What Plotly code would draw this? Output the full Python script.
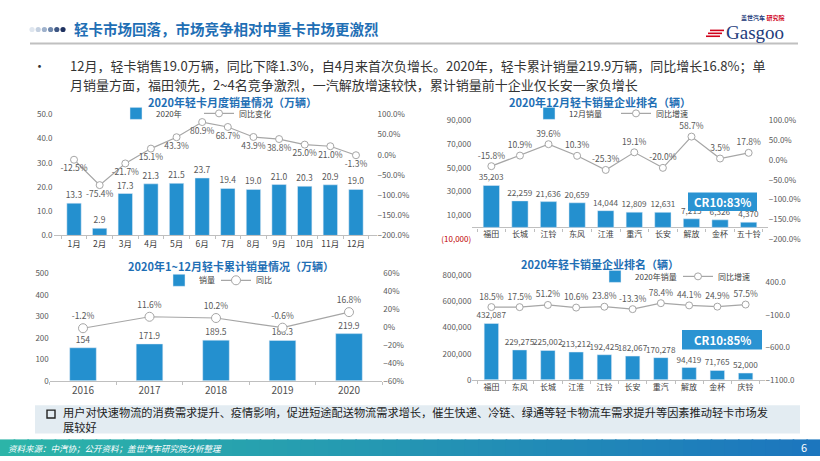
import plotly.graph_objects as go

W, H = 820, 461
def X(p): return p / W
def Y(p): return 1 - p / H

FONT = "Noto Sans CJK SC"
BLUE = "#2490cf"
LINE = "#a6a6a6"
TXT = "#595959"
TITLE = "#1f6fb5"

# ---------------- data ----------------
months = ["1月", "2月", "3月", "4月", "5月", "6月", "7月", "8月", "9月", "10月", "11月", "12月"]
m_sales = [13.3, 2.9, 17.3, 21.3, 21.5, 23.7, 19.4, 19.0, 21.0, 20.3, 20.9, 19.0]
m_yoy = [-12.5, -75.4, -21.7, 15.1, 43.3, 80.9, 68.7, 43.9, 38.8, 25.0, 21.0, -1.3]

dec_cos = ["福田", "长城", "江铃", "东风", "江淮", "重汽", "长安", "解放", "金杯", "五十铃"]
dec_sales = [35203, 22259, 21636, 20659, 14044, 12809, 12631, 7215, 6326, 4370]
dec_yoy = [-15.8, 10.9, 39.6, 10.3, -25.3, 19.1, -20.0, 58.7, 3.5, 17.8]

years = ["2016", "2017", "2018", "2019", "2020"]
y_sales = [154, 171.9, 189.5, 188.3, 219.9]
y_yoy = [-1.2, 11.6, 10.2, -0.6, 16.8]

yr_cos = ["福田", "东风", "长城", "江淮", "江铃", "长安", "重汽", "解放", "金杯", "庆铃"]
yr_sales = [432087, 229275, 225002, 213212, 192425, 182067, 170278, 94419, 71765, 52000]
yr_yoy = [18.5, 17.5, 51.2, 10.6, 23.8, -13.3, 78.4, 44.1, 24.9, 57.5]

fig = go.Figure()

def bar(x, y, name, w, text, xa, ya, lg, fs=8.5):
    return go.Bar(x=x, y=y, name=name, marker_color=BLUE, width=w, text=text, textposition="outside",
                  textfont=dict(size=fs, color=TXT, family=FONT), cliponaxis=False, constraintext="none",
                  xaxis=xa, yaxis=ya, legend=lg, hoverinfo="skip")

def line(x, y, name, pos, xa, ya, lg, msize=7):
    return go.Scatter(x=x, y=y, name=name, mode="lines+markers+text",
                      line=dict(color=LINE, width=1.2),
                      marker=dict(size=msize, color="white", line=dict(color=LINE, width=1)),
                      text=[f"{v:.1f}%" for v in y], textposition=pos,
                      textfont=dict(size=8.5, color=TXT, family=FONT),
                      cliponaxis=False, xaxis=xa, yaxis=ya, legend=lg, hoverinfo="skip")

# chart 1
fig.add_trace(bar(months, m_sales, "2020年", 0.56, [f"{v:.1f}" for v in m_sales], "x", "y", "legend"))
fig.add_trace(line(months, m_yoy, "同比变化", "bottom center", "x", "y2", "legend"))
# chart 2
fig.add_trace(bar(dec_cos, dec_sales, "12月销量", 0.57, [f"{v:,}" for v in dec_sales], "x2", "y3", "legend2", 8.2))
fig.add_trace(line(dec_cos, dec_yoy, "同比增速", "top center", "x2", "y4", "legend2"))
# chart 3
fig.add_trace(bar(years, y_sales, "销量", 0.4, [f"{v:g}" for v in y_sales], "x3", "y5", "legend3"))
fig.add_trace(line(years, y_yoy, "同比", "top center", "x3", "y6", "legend3", msize=9))
# chart 4
fig.add_trace(bar(yr_cos, yr_sales, "2020年销量", 0.51, [f"{v:,}" for v in yr_sales], "x4", "y7", "legend4", 8.2))
fig.add_trace(line(yr_cos, yr_yoy, "同比增速", "top center", "x4", "y8", "legend4"))

tick = dict(size=8, color=TXT, family=FONT)
cat = dict(size=8.5, color="#404040", family=FONT)
base_y = dict(showgrid=False, zeroline=False, showline=False, tickfont=tick, ticks="")
base_x = dict(showgrid=False, zeroline=False, showline=True, linecolor="#bfbfbf", linewidth=1,
              tickfont=cat, ticks="outside", tickson="boundaries", ticklen=3, tickcolor="#bfbfbf",
              tickangle=0)

def leg(x, y, ew):
    return dict(orientation="h", x=X(x), y=Y(y), xanchor="left", yanchor="middle",
                font=dict(size=8, color="#404040", family=FONT), bgcolor="rgba(0,0,0,0)",
                itemwidth=30, tracegroupgap=0, itemclick=False, entrywidth=ew, entrywidthmode="pixels")

ticktext3 = ['<span style="color:#c00000">(10,000)</span>', "10,000", "30,000", "50,000", "70,000", "90,000"]

fig.update_layout(
    width=W, height=H, autosize=False,
    margin=dict(l=0, r=0, t=0, b=0),
    paper_bgcolor="white", plot_bgcolor="rgba(0,0,0,0)",
    font=dict(family=FONT, color=TXT),
    xaxis=dict(base_x, domain=[X(53.5), X(376.5)], anchor="y"),
    yaxis=dict(base_y, domain=[Y(235), Y(111)], range=[0, 50], dtick=10, tickformat=".1f", anchor="x"),
    yaxis2=dict(base_y, overlaying="y", side="right", anchor="x", range=[-200, 100], dtick=50,
                tickformat=".1f", ticksuffix="%"),
    xaxis2=dict(base_x, domain=[X(472.2), X(767.8)], anchor="free", position=Y(227), showline=False,
                tickfont=dict(size=8, color="#404040", family=FONT)),
    yaxis3=dict(base_y, domain=[Y(239), Y(117)], range=[-10000, 90000], anchor="x2",
                tickvals=[-10000, 10000, 30000, 50000, 70000, 90000], ticktext=ticktext3,
                zeroline=True, zerolinecolor="#bfbfbf", zerolinewidth=1),
    yaxis4=dict(base_y, overlaying="y3", side="right", anchor="x2", range=[-200, 100], dtick=50,
                tickformat=".1f", ticksuffix="%"),
    xaxis3=dict(base_x, domain=[X(49.75), X(382.25)], anchor="y5",
                tickfont=dict(size=10, color="#505050", family=FONT)),
    yaxis5=dict(base_y, domain=[Y(384), Y(274)], range=[0, 500], dtick=100, anchor="x3"),
    yaxis6=dict(base_y, overlaying="y5", side="right", anchor="x3", range=[-60, 60], dtick=20,
                ticksuffix="%"),
    xaxis4=dict(base_x, domain=[X(472.4), X(764.6)], anchor="y7",
                tickfont=dict(size=8, color="#404040", family=FONT)),
    yaxis7=dict(base_y, domain=[Y(383), Y(276)], range=[0, 800000], dtick=200000, tickformat=",d", anchor="x4"),
    yaxis8=dict(base_y, overlaying="y7", side="right", anchor="x4", range=[-1100, 505],
                tickvals=[-1100, -600, -100, 400], tickformat=".1f", ticksuffix="%"),
    legend=leg(116, 110, 38), legend2=leg(529, 110, 42), legend3=leg(159, 281, 12), legend4=leg(595, 277, 38),
    showlegend=True,
)

shapes = []
ann = []

# header dots
dot_cols = ["#dfe6ef", "#c4d0e0", "#9fb2cc", "#6f88ad", "#3d5683", "#1f3260"]
for i, c in enumerate(dot_cols):
    cx = 32 + i * 6.2
    shapes.append(dict(type="circle", xref="paper", yref="paper", x0=X(cx - 2.6), x1=X(cx + 2.6),
                       y0=Y(24 + 2.6), y1=Y(24 - 2.6), fillcolor=c, line=dict(width=0)))
ann.append(dict(text="<b>轻卡市场回落，市场竞争相对中重卡市场更激烈</b>", x=X(72), y=Y(23), xanchor="left",
                yanchor="middle", font=dict(size=14.5, color=TITLE, family=FONT)))
# header line
shapes.append(dict(type="line", xref="paper", yref="paper", x0=X(30), x1=X(798), y0=Y(38.5), y1=Y(38.5),
                   line=dict(color="#c0c0c0", width=2)))
# logo
ann.append(dict(text='<b>盖世汽车 <span style="color:#d0021b">研究院</span></b>', x=X(762), y=Y(12),
                xanchor="center", yanchor="middle", font=dict(size=6, color="#233c7b", family=FONT)))
ann.append(dict(text="Gasgoo", x=X(755), y=Y(27), xanchor="center", yanchor="middle",
                font=dict(size=19, color="#233c7b", family="Liberation Serif")))
for k in range(3):
    yy = 25 + k * 3
    shapes.append(dict(type="line", xref="paper", yref="paper", x0=X(710 - k * 2), x1=X(724 - k * 2),
                       y0=Y(yy), y1=Y(yy), line=dict(color="#d0021b", width=1.6)))

# bullet text
ann.append(dict(text="•", x=X(39), y=Y(61), xanchor="center", yanchor="middle",
                font=dict(size=13, color="#333333", family=FONT)))
ann.append(dict(text="12月，轻卡销售19.0万辆，同比下降1.3%，自4月来首次负增长。2020年，轻卡累计销量219.9万辆，同比增长16.8%；单",
                x=X(68), y=Y(61), xanchor="left", yanchor="middle", font=dict(size=13, color="#333333", family=FONT)))
ann.append(dict(text="月销量方面，福田领先，2~4名竞争激烈，一汽解放增速较快，累计销量前十企业仅长安一家负增长",
                x=X(68), y=Y(80), xanchor="left", yanchor="middle", font=dict(size=13, color="#333333", family=FONT)))

# chart titles
for t, cx, cy in [("2020年轻卡月度销量情况（万辆）", 233, 98), ("2020年12月轻卡销量企业排名（辆）", 600, 98),
                  ("2020年1~12月轻卡累计销量情况（万辆）", 231, 266), ("2020年轻卡销量企业排名（辆）", 600, 264)]:
    ann.append(dict(text=f"<b>{t}</b>", x=X(cx), y=Y(cy), xanchor="center", yanchor="middle",
                    font=dict(size=11, color=TITLE, family=FONT)))

# CR10 boxes
for (x0, x1, y0, y1, t) in [(688, 757, 191, 210, "CR10:83%"), (682, 762, 332, 352, "CR10:85%")]:
    shapes.append(dict(type="rect", xref="paper", yref="paper", x0=X(x0), x1=X(x1), y0=Y(y1), y1=Y(y0),
                       fillcolor="#2a93d2", line=dict(width=0), layer="above"))
    ann.append(dict(text=f"<b>{t}</b>", x=X((x0 + x1) / 2), y=Y((y0 + y1) / 2), xanchor="center",
                    yanchor="middle", font=dict(size=11.5, color="white", family=FONT)))

# note box
shapes.append(dict(type="rect", xref="paper", yref="paper", x0=X(35), x1=X(800), y0=Y(438), y1=Y(409),
                   fillcolor="#e3ecf2", line=dict(width=0), layer="below"))
shapes.append(dict(type="rect", xref="paper", yref="paper", x0=X(47), x1=X(55), y0=Y(422), y1=Y(414),
                   fillcolor="rgba(0,0,0,0)", line=dict(color="#222222", width=1.4)))
ann.append(dict(text="用户对快速物流的消费需求提升、疫情影响，促进短途配送物流需求增长，催生快递、冷链、绿通等轻卡物流车需求提升等因素推动轻卡市场发<br>展较好",
                x=X(61), y=Y(424), xanchor="left", yanchor="middle", align="left",
                font=dict(size=11.2, color="#222222", family=FONT)))

# footer gradient
n = 60
c0, c1 = (44, 180, 168), (28, 118, 190)
for i in range(n):
    f = i / (n - 1)
    col = "rgb(%d,%d,%d)" % tuple(round(a + (b - a) * f) for a, b in zip(c0, c1))
    shapes.append(dict(type="rect", xref="paper", yref="paper", x0=i / n, x1=(i + 1) / n + 0.002,
                       y0=0, y1=Y(444), fillcolor=col, line=dict(width=0), layer="below"))
ann.append(dict(text="<i>资料来源：中汽协；公开资料；盖世汽车研究院分析整理</i>", x=X(6), y=Y(453), xanchor="left",
                yanchor="middle", font=dict(size=8.5, color="white", family=FONT)))
ann.append(dict(text="6", x=X(804), y=Y(452), xanchor="center", yanchor="middle",
                font=dict(size=11, color="white", family=FONT)))

for a in ann:
    a.setdefault("xref", "paper")
    a.setdefault("yref", "paper")
    a.setdefault("showarrow", False)

fig.update_layout(shapes=shapes, annotations=ann)
fig.write_html("out.html", config={"displayModeBar": False},
               post_script="document.body.style.margin='0';document.body.style.overflow='hidden';")
